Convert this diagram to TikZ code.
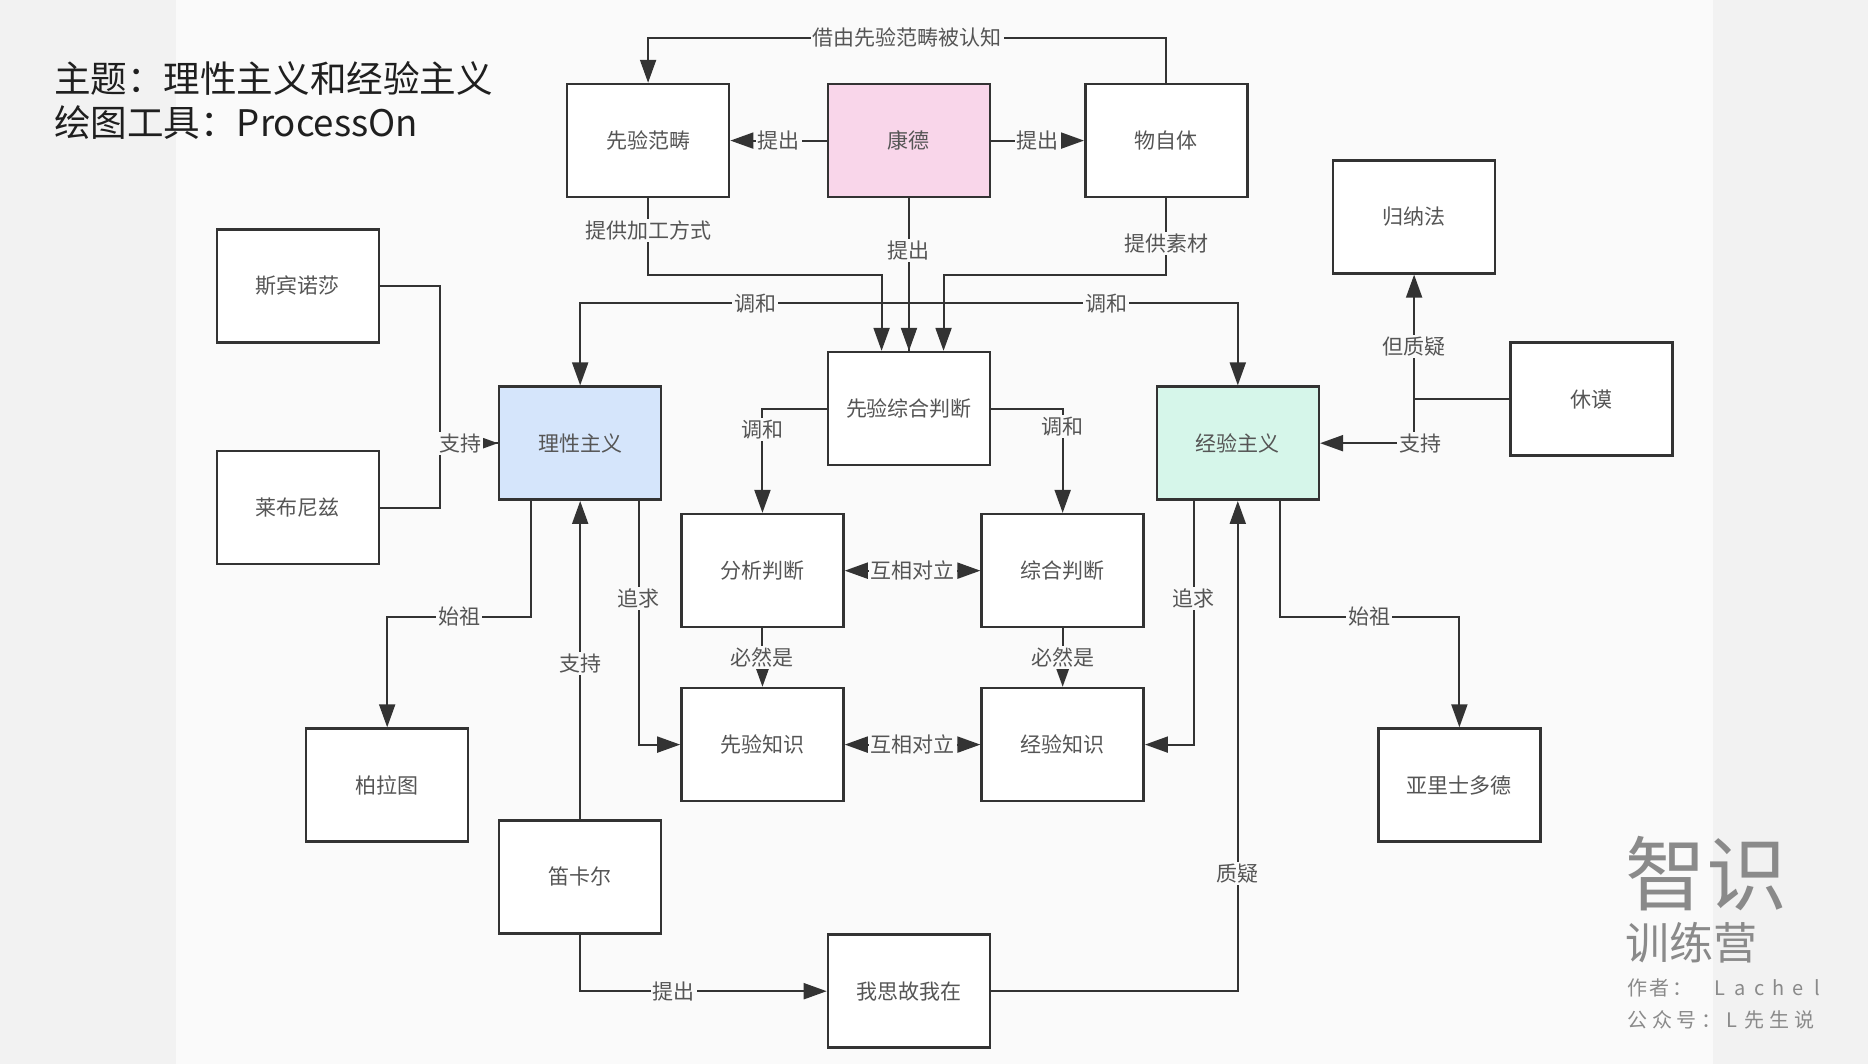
\documentclass[tikz,border=0pt]{standalone}
\usepackage{fontspec}
\setmainfont{Noto Sans CJK SC}
\usetikzlibrary{arrows.meta,calc}
\definecolor{bgmain}{HTML}{FAFAFA}
\definecolor{bgside}{HTML}{F2F2F2}
\definecolor{edge}{HTML}{333333}
\definecolor{txt}{HTML}{555555}
\definecolor{kantfill}{HTML}{F9D6EA}
\definecolor{ratfill}{HTML}{D5E5FB}
\definecolor{empfill}{HTML}{D6F6EA}
\definecolor{wm}{HTML}{8A8A8A}
\begin{document}
\begin{tikzpicture}[x=0.5957pt,y=-0.5957pt,
 box/.style={draw=edge,line width=1.3pt,fill=white,minimum width=81pt,minimum height=56.5pt,inner sep=0pt,text=txt,font=\fontsize{10.5}{12}\selectfont},
 lbl/.style={fill=bgmain,inner sep=1pt,text=txt,font=\fontsize{10.5}{12}\selectfont},
 arr/.style={draw=edge,line width=1pt,-{Triangle[length=11.5pt,width=8pt]}},
 arrboth/.style={draw=edge,line width=1pt,{Triangle[length=11.5pt,width=8pt]}-{Triangle[length=11.5pt,width=8pt]}},
 ln/.style={draw=edge,line width=1pt},
 wmtext/.style={anchor=west,text=wm,inner sep=0pt}]
% background
\fill[bgside] (0,0) rectangle (1568,893);
\fill[bgmain] (148,0) rectangle (1438,893);
\useasboundingbox (0,0) rectangle (1568,893);

% title
\node[anchor=west,text=black!88,font=\fontsize{18.3}{20}\selectfont,inner sep=0pt] (title1) at (45,66) {主题：理性主义和经验主义};
\node[anchor=west,text=black!88,font=\fontsize{18.3}{20}\selectfont,inner sep=0pt] (title2) at (45,103) {绘图工具：ProcessOn};

% boxes
\node[box] (xyfc) at (544,118) {先验范畴};
\node[box,fill=kantfill] (kd) at (763,118) {康德};
\node[box] (wzt) at (979,118) {物自体};
\node[box] (gnf) at (1187,182) {归纳法};
\node[box] (sbns) at (250,240) {斯宾诺莎};
\node[box] (lbnz) at (250,426) {莱布尼兹};
\node[box,fill=ratfill] (lx) at (487,372) {理性主义};
\node[box] (xyzh) at (763,343) {先验综合判断};
\node[box,fill=empfill] (jy) at (1039,372) {经验主义};
\node[box] (xm) at (1336,335) {休谟};
\node[box] (fx) at (640,479) {分析判断};
\node[box] (zh) at (892,479) {综合判断};
\node[box] (xyzs) at (640,625) {先验知识};
\node[box] (jyzs) at (892,625) {经验知识};
\node[box] (plt) at (325,659) {柏拉图};
\node[box] (ylsdd) at (1225,659) {亚里士多德};
\node[box] (dke) at (487,736) {笛卡尔};
\node[box] (wsgwz) at (763,832) {我思故我在};

% connectors
\draw[arr] (wzt.north) -- ++(0,-38) -| node[lbl,pos=0.25]{借由先验范畴被认知} (xyfc.north);
\draw[arr] (kd.west) -- node[lbl]{提出} (xyfc.east);
\draw[arr] (kd.east) -- node[lbl]{提出} (wzt.west);
\draw[arr] (xyfc.south) -- node[lbl,pos=0.42]{提供加工方式} ++(0,64) -| ($(xyzh.north)+(-23,0)$);
\draw[arr] (wzt.south) -- node[lbl,pos=0.59]{提供素材} ++(0,64) -| ($(xyzh.north)+(29,0)$);
\draw[arr] (xyzh.north) -- ++(0,-40) -| node[lbl,pos=0.234]{调和} (lx.north);
\draw[arr] (xyzh.north) -- ++(0,-40) -| node[lbl,pos=0.3]{调和} (jy.north);
\draw[arr] (kd.south) -- node[lbl,pos=0.34]{提出} (xyzh.north);
\draw[arr] (xyzh.west) -| node[lbl,pos=0.6]{调和} (fx.north);
\draw[arr] (xyzh.east) -| node[lbl,pos=0.585]{调和} (zh.north);
\draw[arrboth] (fx.east) -- node[lbl]{互相对立} (zh.west);
\draw[arrboth] (xyzs.east) -- node[lbl]{互相对立} (jyzs.west);
\draw[arr] (fx.south) -- node[lbl]{必然是} (xyzs.north);
\draw[arr] (zh.south) -- node[lbl]{必然是} (jyzs.north);
\draw[arr] ($(lx.south)+(49,0)$) |- node[lbl,pos=0.2]{追求} (xyzs.west);
\draw[arr] ($(jy.south)+(-37,0)$) |- node[lbl,pos=0.2]{追求} (jyzs.east);
\draw[arr] ($(lx.south)+(-41,0)$) -- ++(0,97) -| node[lbl,pos=0.25]{始祖} (plt.north);
\draw[arr] ($(jy.south)+(35,0)$) -- ++(0,97) -| node[lbl,pos=0.25]{始祖} (ylsdd.north);
\draw[arr] (dke.north) -- node[lbl,pos=0.49]{支持} (lx.south);
\draw[arr] (dke.south) |- node[lbl,pos=0.69]{提出} (wsgwz.west);
\draw[arr] (wsgwz.east) -| node[lbl,pos=0.62]{质疑} (jy.south);
\draw[ln] (lbnz.east) -- ++(50,0) |- (lx.west);
\draw[arr] (sbns.east) -- ++(50,0) |- node[lbl,pos=0.675]{支持} (lx.west);
\draw[arr] (xm.west) -| node[lbl,pos=0.71]{但质疑} (gnf.south);
\draw[arr] (xm.west) -- ++(-80,0) |- node[lbl,pos=0.5,xshift=3pt]{支持} (jy.east);

% watermark
\node[wmtext,font=\fontsize{40.5}{44}\selectfont] (wm1) at (1364,733) {智识};
\node[wmtext,font=\fontsize{22}{24}\selectfont] (wm2) at (1364,791) {训练营};
\node[wmtext,font=\fontsize{10}{12}\selectfont] (wm3) at (1366,829) {\makebox[10.8pt][l]{作}\makebox[11.4pt][l]{者}\makebox[21.1pt][l]{：}\makebox[10pt][l]{L}\makebox[10pt][l]{a}\makebox[9.2pt][l]{c}\makebox[10pt][l]{h}\makebox[10.8pt][l]{e}l};
\node[wmtext,font=\fontsize{10}{12}\selectfont] (wm4) at (1366,856) {\makebox[12.3pt][l]{公}\makebox[12.3pt][l]{众}\makebox[12.3pt][l]{号}\makebox[12.5pt][l]{：}\makebox[9pt][l]{L}\makebox[12.5pt][l]{先}\makebox[12.5pt][l]{生}说};
\end{tikzpicture}
\end{document}
